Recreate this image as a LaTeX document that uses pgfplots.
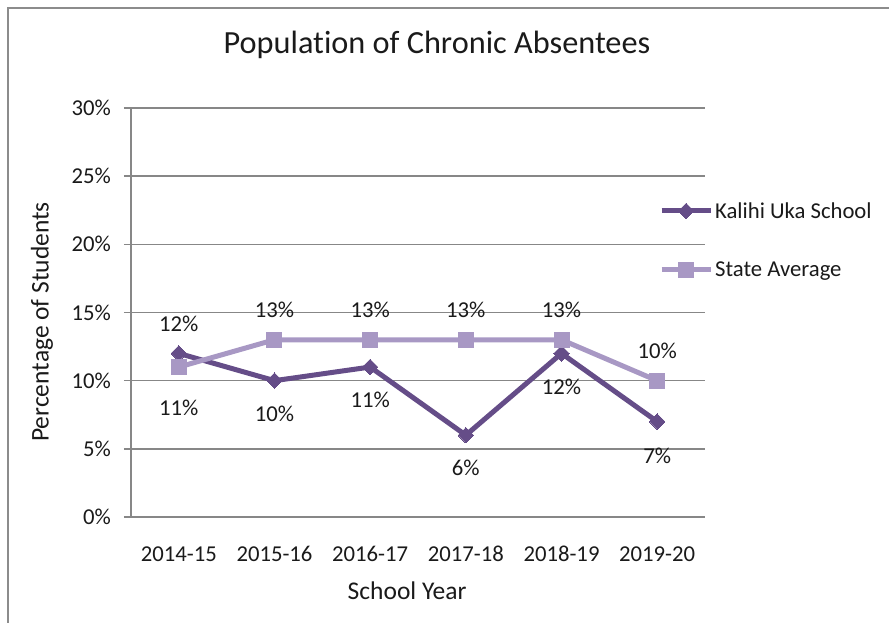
\documentclass[border=0pt]{standalone}
\usepackage{pgfplots}
\pgfplotsset{compat=1.18}
\usepackage{pgfplotstable}
\usepackage{fontspec}
\setmainfont[Ligatures={NoCommon}]{Carlito}

\definecolor{kalihi}{HTML}{654D88}
\definecolor{stateavg}{HTML}{A898C4}
\definecolor{gridgray}{HTML}{878787}
\definecolor{framegray}{HTML}{8C8C8C}
\definecolor{textdark}{HTML}{1A1A1A}

% Share of chronic absentees (percent); off = vertical offset of the value label
\pgfplotstableread{
x y off
0 12 30
1 10 -33
2 11 -33
3 6 -33
4 12 -33
5 7 -34
}\kalihidata
\pgfplotstableread{
x y off
0 11 -41
1 13 30
2 13 30
3 13 30
4 13 30
5 10 30
}\statedata

\begin{document}
\begin{tikzpicture}
\begin{axis}[
  scale only axis, width=574pt, height=409pt,
  xmin=-0.5, xmax=5.5, ymin=0, ymax=30,
  clip=false,
  axis lines*=left,
  axis line style={gridgray, line width=1.5pt, -},
  tick align=outside,
  xtick={0,1,2,3,4,5},
  xticklabels={2014-15,2015-16,2016-17,2017-18,2018-19,2019-20},
  xtick style={draw=none},
  minor xtick={-0.5,0.5,1.5,2.5,3.5,4.5,5.5},
  minor tick length=7pt,
  major tick length=7pt,
  minor tick style={gridgray, line width=1.5pt},
  ytick={0,5,10,15,20,25,30},
  yticklabels={0\%,5\%,10\%,15\%,20\%,25\%,30\%},
  ytick style={gridgray, line width=1.5pt},
  ymajorgrids,
  major grid style={gridgray, line width=1.5pt},
  ticklabel style={font=\fontsize{22.7}{27}\selectfont, text=textdark},
  xticklabel style={anchor=base, yshift=-38pt},
  yticklabel style={anchor=east, inner sep=0pt, xshift=-13pt},
  xlabel={School Year},
  ylabel={Percentage of Students},
  label style={font=\fontsize{25.5}{30}\selectfont, text=textdark},
  xlabel style={at={(axis description cs:0.481,-0.181)}, anchor=center},
  ylabel style={at={(axis description cs:-0.155,0.477)}, anchor=center},
  /pgf/number format/assume math mode=true,
  nodes near coords={\pgfmathprintnumber{\pgfplotspointmeta}\%},
  point meta=y,
  visualization depends on={\thisrow{off}\as\labeloff},
  every node near coord/.append style={anchor=center, yshift=\labeloff,
    font=\fontsize{22.7}{27}\selectfont, text=textdark},
  legend style={at={(axis description cs:0.9145,0.677)}, anchor=west,
    draw=none, fill=none, font=\fontsize{22.7}{27}\selectfont,
    text=textdark, row sep=38pt,
    /tikz/every even column/.append style={column sep=0pt}},
  legend cell align=left,
  legend image code/.code={\draw[mark repeat=2,mark phase=2]
    plot coordinates {(0pt,0pt) (24.5pt,0pt) (49pt,0pt)};},
]
\addplot[kalihi, line width=5pt, mark=square*, mark size=5.5pt,
  mark options={rotate=45, line width=0pt, fill=kalihi}]
  table[x=x, y=y] {\kalihidata};
\addlegendentry{Kalihi Uka School}
\addplot[stateavg, line width=5pt, mark=square*, mark size=7.5pt,
  mark options={line width=0pt, fill=stateavg}]
  table[x=x, y=y] {\statedata};
\addlegendentry{State Average}
\coordinate (o) at (rel axis cs:0,0);
\end{axis}
% chart area: frame, title and page size, measured from the plot's lower-left corner
\pgfresetboundingbox
\begin{scope}[shift={(o)}, x=1pt, y=1pt]
\useasboundingbox (-131,517) rectangle (758,-106);
\draw[framegray, line width=2.2pt] (-123,-106) -- (-123,509) -- (758,509);
\node[font=\fontsize{32.3}{38}\selectfont, text=textdark, anchor=base]
  at (306,463) {Population of Chronic Absentees};
\end{scope}
\end{tikzpicture}
\end{document}
